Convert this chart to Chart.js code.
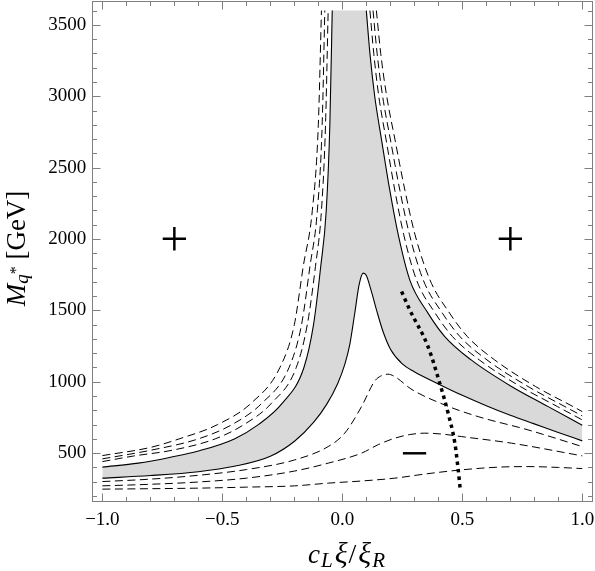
<!DOCTYPE html>
<html><head><meta charset="utf-8">
<script src="https://cdn.jsdelivr.net/npm/chart.js@4/dist/chart.umd.min.js"></script>
<style>html,body{margin:0;padding:0;background:#fff}canvas{display:block}</style>
</head><body>
<canvas id="c" width="595" height="571"></canvas>
<script>
// ---- data ----
// upper solid boundary, left branch
const ulX = [-1, -0.85, -0.72, -0.6, -0.45, -0.35, -0.25, -0.16, -0.12, -0.09, -0.067, -0.052, -0.042];
const ulY = [402, 430, 470, 515, 600, 700, 850, 1100, 1400, 1807, 2200, 2800, 3600];
// upper solid boundary, right branch
const urX = [0.1, 0.115, 0.135, 0.163, 0.198, 0.233, 0.281, 0.357, 0.427, 0.537, 0.705, 0.858, 1];
const urY = [3600, 3300, 3000, 2700, 2340, 2030, 1714, 1481, 1317, 1153, 967, 826, 696];
// lower solid boundary
const lsX = [-1, -0.8, -0.6, -0.45, -0.3, -0.198, -0.12, -0.066, -0.02, 0.01, 0.031, 0.052, 0.07, 0.087, 0.1, 0.12, 0.143, 0.17, 0.2, 0.25, 0.3, 0.4, 0.5, 0.6, 0.7, 0.8, 0.9, 1];
const lsY = [325, 343, 370, 408, 478, 585, 715, 840, 985, 1120, 1260, 1482, 1680, 1761, 1745, 1640, 1500, 1350, 1230, 1125, 1070, 985, 905, 832, 765, 705, 645, 586];
// dashed curves left of the upper-left branch
const dl1X = [-1, -0.87, -0.71, -0.53, -0.41, -0.295, -0.192, -0.146, -0.112, -0.087, -0.07, -0.059];
const dl1Y = [441, 480, 520, 600, 700, 850, 1100, 1400, 1807, 2200, 2800, 3600];
const dl2X = [-1, -0.8, -0.6, -0.46, -0.335, -0.222, -0.17, -0.135, -0.104, -0.084, -0.073];
const dl2Y = [460, 520, 600, 700, 850, 1100, 1400, 1807, 2200, 2800, 3600];
const dl3X = [-1, -0.8, -0.68, -0.52, -0.38, -0.26, -0.2, -0.163, -0.125, -0.1, -0.087];
const dl3Y = [483, 540, 600, 700, 850, 1100, 1400, 1807, 2200, 2800, 3600];
// dashed curves right of the upper-right branch
const dr1X = [0.115, 0.131, 0.152, 0.182, 0.219, 0.256, 0.309, 0.387, 0.459, 0.571, 0.742, 0.897, 1];
const dr1Y = [3600, 3300, 3000, 2700, 2340, 2030, 1714, 1481, 1317, 1153, 967, 826, 733];
const dr2X = [0.128, 0.145, 0.168, 0.2, 0.24, 0.28, 0.337, 0.417, 0.49, 0.603, 0.774, 0.928, 1];
const dr2Y = [3600, 3300, 3000, 2700, 2340, 2030, 1714, 1481, 1317, 1153, 967, 826, 761];
const dr3X = [0.142, 0.16, 0.185, 0.219, 0.261, 0.303, 0.365, 0.447, 0.521, 0.635, 0.805, 0.962, 1];
const dr3Y = [3600, 3300, 3000, 2700, 2340, 2030, 1714, 1481, 1317, 1153, 967, 826, 791];
// lower dashed curves
const ld1X = [-1, -0.8, -0.6, -0.4, -0.198, -0.059, 0.01, 0.08, 0.135, 0.16, 0.19, 0.22, 0.286, 0.426, 0.566, 0.774, 1];
const ld1Y = [301, 318, 345, 385, 453, 546, 640, 826, 1005, 1040, 1053, 1035, 950, 838, 756, 663, 546];
const ld2X = [-1, -0.8, -0.6, -0.4, -0.198, -0.059, 0.08, 0.15, 0.219, 0.28, 0.344, 0.42, 0.497, 0.705, 1];
const ld2Y = [271, 282, 298, 325, 375, 430, 500, 560, 605, 630, 640, 633, 616, 570, 481];
const ld3X = [-1, -0.8, -0.6, -0.4, -0.198, -0.059, 0.08, 0.219, 0.35, 0.497, 0.65, 0.774, 0.9, 1];
const ld3Y = [248, 251, 255, 262, 271, 290, 305, 325, 355, 383, 402, 406, 400, 392];
// dotted curve
const dotX = [0.247, 0.281, 0.357, 0.406, 0.441, 0.469, 0.483, 0.492];
const dotY = [1632, 1504, 1247, 990, 780, 570, 383, 238];
// in-plot sign labels
const signText = ['+', '+', '\u2212'];
const signX = [-0.7, 0.7, 0.3];
const signY = [2000, 2000, 500];
// axis ticks
const xTickValues = [-1, -0.5, 0, 0.5, 1];
const xTickLabels = ['\u22121.0', '\u22120.5', '0.0', '0.5', '1.0'];
const yTickValues = [500, 1000, 1500, 2000, 2500, 3000, 3500];
const yTickLabels = ['500', '1000', '1500', '2000', '2500', '3000', '3500'];

function pts(xs, ys) { return xs.map((x, i) => ({x: x, y: ys[i]})); }

const SERIF = "'Liberation Serif', 'Times New Roman', serif";
const lineBase = {showLine: true, pointRadius: 0, borderColor: '#000', fill: false, cubicInterpolationMode: 'monotone', order: 0};
const dash = [8, 4.5];

const datasets = [
  Object.assign({}, lineBase, {label: 'band', data: pts(ulX.concat(urX), ulY.concat(urY)), borderWidth: 0, borderColor: 'rgba(0,0,0,0)', backgroundColor: '#d9d9d9', fill: 1, order: 10}),
  Object.assign({}, lineBase, {label: 'lower solid', data: pts(lsX, lsY), borderWidth: 1.1}),
  Object.assign({}, lineBase, {label: 'upper solid L', data: pts(ulX, ulY), borderWidth: 1.1}),
  Object.assign({}, lineBase, {label: 'upper solid R', data: pts(urX, urY), borderWidth: 1.1}),
  Object.assign({}, lineBase, {label: 'dl1', data: pts(dl1X, dl1Y), borderWidth: 1, borderDash: dash}),
  Object.assign({}, lineBase, {label: 'dl2', data: pts(dl2X, dl2Y), borderWidth: 1, borderDash: dash}),
  Object.assign({}, lineBase, {label: 'dl3', data: pts(dl3X, dl3Y), borderWidth: 1, borderDash: dash}),
  Object.assign({}, lineBase, {label: 'dr1', data: pts(dr1X, dr1Y), borderWidth: 1, borderDash: dash}),
  Object.assign({}, lineBase, {label: 'dr2', data: pts(dr2X, dr2Y), borderWidth: 1, borderDash: dash}),
  Object.assign({}, lineBase, {label: 'dr3', data: pts(dr3X, dr3Y), borderWidth: 1, borderDash: dash}),
  Object.assign({}, lineBase, {label: 'ld1', data: pts(ld1X, ld1Y), borderWidth: 1, borderDash: dash}),
  Object.assign({}, lineBase, {label: 'ld2', data: pts(ld2X, ld2Y), borderWidth: 1, borderDash: dash}),
  Object.assign({}, lineBase, {label: 'ld3', data: pts(ld3X, ld3Y), borderWidth: 1, borderDash: dash}),
  Object.assign({}, lineBase, {label: 'dotted', data: pts(dotX, dotY), borderWidth: 3.5, borderDash: [3.5, 4], borderCapStyle: 'butt'})
];

function drawRich(ctx, parts, ax, ay, rot) {
  ctx.save();
  ctx.translate(ax, ay);
  if (rot) ctx.rotate(-Math.PI / 2);
  let total = 0;
  parts.forEach(p => { ctx.font = p.font; p.w = ctx.measureText(p.t).width + (p.gap || 0); total += p.w; });
  let x = -total / 2;
  ctx.textBaseline = 'alphabetic';
  ctx.textAlign = 'left';
  ctx.fillStyle = '#000';
  parts.forEach(p => { ctx.font = p.font; ctx.fillText(p.t, x + (p.pre || 0), p.dy || 0); x += p.w; });
  ctx.restore();
}

const decor = {
  id: 'decor',
  afterDraw(chart) {
    const ctx = chart.ctx, a = chart.chartArea, sx = chart.scales.x, sy = chart.scales.y;
    ctx.save();
    ctx.strokeStyle = '#7f7f7f';
    ctx.lineWidth = 1;
    const L = Math.round(a.left) + 0.5, R = Math.round(a.right) - 0.5, T = Math.round(a.top) + 0.5, B = Math.round(a.bottom) - 0.5;
    ctx.strokeRect(L, T, R - L, B - T);
    ctx.beginPath();
    for (let k = -10; k <= 10; k++) {
      const v = k / 10;
      const major = k % 5 === 0;
      const px = Math.round(sx.getPixelForValue(v)) + 0.5;
      const len = major ? 8 : 4.5;
      ctx.moveTo(px, B); ctx.lineTo(px, B - len);
      ctx.moveTo(px, T); ctx.lineTo(px, T + len);
    }
    for (let k = 2; k <= 36; k++) {
      const v = k * 100;
      const major = k % 5 === 0;
      const py = Math.round(sy.getPixelForValue(v)) + 0.5;
      const len = major ? 8 : 4.5;
      ctx.moveTo(L, py); ctx.lineTo(L + len, py);
      ctx.moveTo(R, py); ctx.lineTo(R - len, py);
    }
    ctx.stroke();
    // sign labels
    ctx.fillStyle = '#000';
    ctx.font = '50px ' + SERIF;
    ctx.textAlign = 'left';
    ctx.textBaseline = 'alphabetic';
    signText.forEach((t, i) => {
      const m = ctx.measureText(t);
      const cx = sx.getPixelForValue(signX[i]);
      const cy = sy.getPixelForValue(signY[i]);
      const bx = cx - (m.actualBoundingBoxRight - m.actualBoundingBoxLeft) / 2;
      const by = cy + (m.actualBoundingBoxAscent - m.actualBoundingBoxDescent) / 2;
      ctx.fillText(t, bx, by);
    });
    ctx.restore();
    // axis titles
    drawRich(ctx, [
      {t: 'c', font: 'italic 27px ' + SERIF, gap: 1},
      {t: 'L', font: 'italic 21px ' + SERIF, dy: 4, gap: 2},
      {t: '\u03BE', font: 'italic 30px ' + SERIF, gap: 1},
      {t: '/', font: '28px ' + SERIF, gap: 2},
      {t: '\u03BE', font: 'italic 30px ' + SERIF, gap: 1},
      {t: 'R', font: 'italic 21px ' + SERIF, dy: 4}
    ], 346.5, 563, false);
    drawRich(ctx, [
      {t: 'M', font: 'italic 27px ' + SERIF},
      {t: 'q', font: 'italic 19px ' + SERIF, dy: 3},
      {t: '*', font: '16px ' + SERIF, dy: -4},
      {t: ' [GeV]', font: '27px ' + SERIF}
    ], 25, 248.5, true);
  }
};

function noPad(s) { s.paddingTop = 0; s.paddingBottom = 0; s.paddingLeft = 0; s.paddingRight = 0; }

Chart.defaults.font.family = SERIF;
new Chart(document.getElementById('c'), {
  type: 'scatter',
  data: {datasets: datasets},
  options: {
    responsive: false,
    animation: false,
    devicePixelRatio: 1,
    events: [],
    layout: {padding: {left: 0, right: 1.7, top: 1.3, bottom: 0}},
    plugins: {legend: {display: false}, tooltip: {enabled: false}},
    scales: {
      x: {
        type: 'linear', min: -1.042, max: 1.046,
        grid: {display: false, drawTicks: false}, border: {display: false},
        ticks: {color: '#000', font: {size: 19, family: SERIF}, padding: 7, autoSkip: false, maxRotation: 0,
          callback: (v, i) => xTickLabels[i]},
        afterBuildTicks: s => { s.ticks = xTickValues.map(v => ({value: v})); },
        afterFit: s => { s.height = 69.3; noPad(s); }
      },
      y: {
        type: 'linear', min: 160, max: 3665,
        grid: {display: false, drawTicks: false}, border: {display: false},
        ticks: {color: '#000', font: {size: 19, family: SERIF}, padding: 6, autoSkip: false,
          callback: (v, i) => yTickLabels[i]},
        afterBuildTicks: s => { s.ticks = yTickValues.map(v => ({value: v})); },
        afterFit: s => { s.width = 92.3; noPad(s); }
      }
    }
  },
  plugins: [decor]
});
</script>
</body></html>
